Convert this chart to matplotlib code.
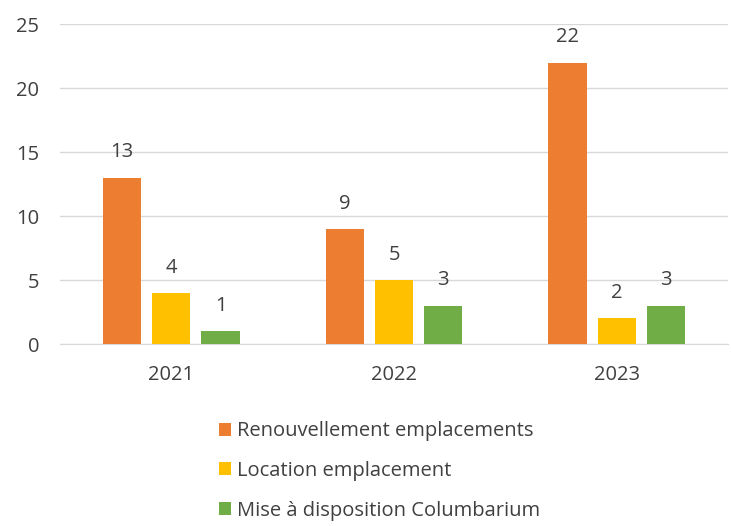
import numpy as np
import matplotlib.pyplot as plt

years = ['2021', '2022', '2023']
series_names = ['Renouvellement emplacements', 'Location emplacement', 'Mise à disposition Columbarium']
renouvellement = [13, 9, 22]
location = [4, 5, 2]
columbarium = [1, 3, 3]
colors = ['#ED7D31', '#FFC000', '#70AD47']

plt.rcParams['font.family'] = ['Open Sans', 'DejaVu Sans']
text_color = '#404040'
fs = 14.5

fig = plt.figure(figsize=(7.31, 5.26), dpi=100)
ax = fig.add_axes([0.082, 0.346, 0.914, 0.608])

x = np.arange(len(years))
width = 0.171
step = 0.221
handles = []
for i, (vals, name, c) in enumerate(zip([renouvellement, location, columbarium], series_names, colors)):
    bars = ax.bar(x + (i - 1) * step, vals, width, color=c, label=name, zorder=3)
    handles.append(bars)
    for b, v in zip(bars, vals):
        ax.annotate(str(v), (b.get_x() + b.get_width() / 2, v), xytext=(0, 11),
                    textcoords='offset points', ha='center', va='bottom',
                    fontsize=fs, color=text_color)

ax.set_xlim(-0.5, 2.5)
ax.set_ylim(0, 25)
ax.set_yticks(range(0, 26, 5))
ax.set_xticks(x)
ax.set_xticklabels(years)
ax.tick_params(length=0, labelsize=fs, colors=text_color)
ax.tick_params(axis='x', pad=15)
ax.tick_params(axis='y', pad=15)
ax.grid(axis='y', color='#D9D9D9', linewidth=1, zorder=0)
for s in ['top', 'right', 'left']:
    ax.spines[s].set_visible(False)
ax.spines['bottom'].set_color('#D9D9D9')

fig.legend(handles=handles, labels=series_names, loc='upper left',
           bbox_to_anchor=(0.28, 0.226), frameon=False, fontsize=fs,
           labelcolor=text_color, handlelength=0.6, handleheight=0.6,
           handletextpad=0.3, labelspacing=0.98, borderpad=0.2)

fig.savefig('out.png', dpi=100)
